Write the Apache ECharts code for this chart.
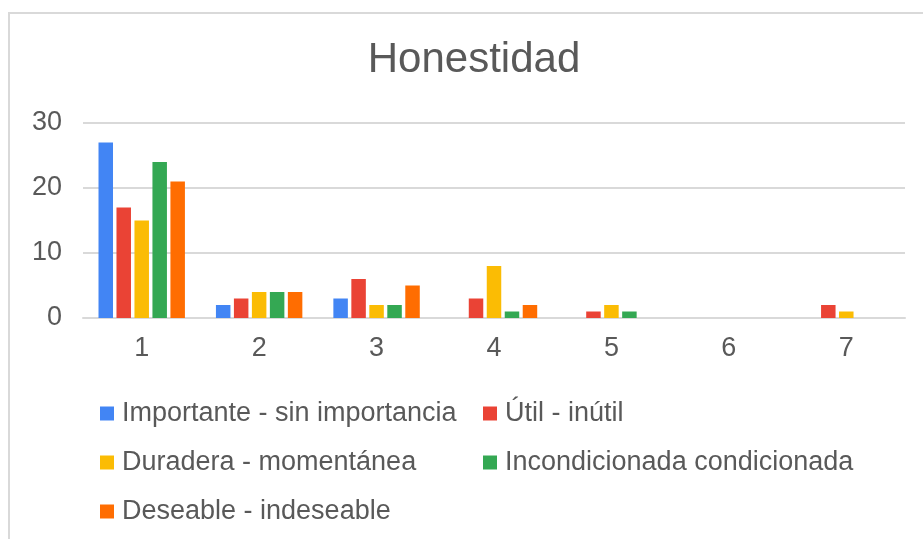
<!DOCTYPE html>
<html>
<head>
    <meta charset="utf-8">
    <script src="https://cdn.jsdelivr.net/npm/echarts@6/dist/echarts.min.js"></script>
    <style>
        body { margin: 0; background: #fff; }
        #frame { position: absolute; left: 8px; top: 12px; width: 940px; height: 560px;
                 border-left: 2px solid #d9d9d9; border-top: 2px solid #d9d9d9; }
        #main { position: absolute; left: 0; top: 0; width: 923px; height: 539px; }
    </style>
</head>
<body>
<div id="frame"></div>
<div id="main"></div>
<script type="text/javascript">
    // datos del gráfico
    var categorias = ['1', '2', '3', '4', '5', '6', '7'];
    var nombres = ['Importante - sin importancia', 'Útil - inútil', 'Duradera - momentánea',
                   'Incondicionada condicionada', 'Deseable - indeseable'];
    var importante = [27, 2, 3, 0, 0, 0, 0];
    var util = [17, 3, 6, 3, 1, 0, 2];
    var duradera = [15, 4, 2, 8, 2, 0, 1];
    var incondicionada = [24, 4, 2, 1, 1, 0, 0];
    var deseable = [21, 4, 5, 2, 0, 0, 0];
    var colores = ['#4285F4', '#EA4335', '#FBBC04', '#34A853', '#FF6D01'];

    var valores = [importante, util, duradera, incondicionada, deseable];
    var fuente = 'Liberation Sans, Arial, sans-serif';
    var gris = '#595959';

    var myChart = echarts.init(document.getElementById('main'));

    var legendBase = {
        orient: 'vertical',
        top: 395,
        itemWidth: 14,
        itemHeight: 14,
        itemGap: 22,
        icon: 'rect',
        selectedMode: false,
        textStyle: { fontSize: 27, color: gris, fontFamily: fuente, padding: [0, 0, 0, 3] }
    };

    option = {
        color: colores,
        animation: false,
        title: {
            text: 'Honestidad',
            left: 469,
            textAlign: 'center',
            top: 34,
            textStyle: { fontSize: 42, fontWeight: 'normal', color: gris, fontFamily: fuente }
        },
        legend: [
            Object.assign({}, legendBase, { left: 95, data: [nombres[0], nombres[2], nombres[4]] }),
            Object.assign({}, legendBase, { left: 478, data: [nombres[1], nombres[3]] })
        ],
        grid: { left: 83, right: 18, top: 123, bottom: 221, containLabel: false },
        xAxis: {
            type: 'category',
            data: categorias,
            axisTick: { show: false },
            axisLine: { lineStyle: { color: '#d9d9d9', width: 2 } },
            axisLabel: { fontSize: 27, color: gris, fontFamily: fuente, margin: 17 }
        },
        yAxis: {
            type: 'value',
            min: 0,
            max: 30,
            interval: 10,
            axisLabel: { fontSize: 27, color: gris, fontFamily: fuente, margin: 21 },
            splitLine: { lineStyle: { color: '#d9d9d9', width: 2 } }
        },
        series: nombres.map(function (n, i) {
            return {
                name: n,
                type: 'bar',
                data: valores[i],
                barWidth: 14.5,
                barGap: '24%'
            };
        })
    };

    myChart.setOption(option);
</script>
</body>
</html>
